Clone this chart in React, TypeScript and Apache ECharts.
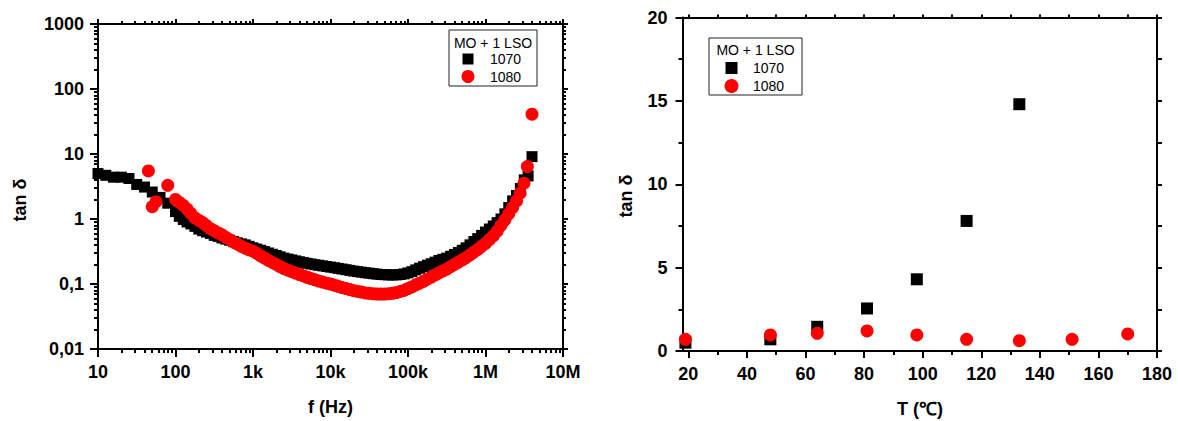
import React, { useEffect, useRef } from 'react';
import * as echarts from 'echarts';

// ---------- data ----------
const freqBlack = [10, 12.6, 15.8, 20, 25.1, 31.6, 39.8, 50.1, 63.1, 79.4,
  100, 112, 126, 141, 158, 178, 200, 224, 251, 282, 316, 355, 398, 447, 501, 562, 631, 708, 794, 891,
  1000, 1122, 1259, 1413, 1585, 1778, 1995, 2239, 2512, 2818, 3162, 3548, 3981, 4467, 5012, 5623, 6310, 7079, 7943, 8913,
  10000, 11220, 12589, 14125, 15849, 17783, 19953, 22387, 25119, 28184, 31623, 35481, 39811, 44668, 50119, 56234, 63096, 70795, 79433, 89125,
  100000, 112202, 125893, 141254, 158489, 177828, 199526, 223872, 251189, 281838, 316228, 354813, 398107, 446684, 501187, 562341, 630957, 707946, 794328, 891251,
  1000000, 1122018, 1258925, 1412538, 1584893, 1778279, 1995262, 2238721, 2511886, 2818383, 3162278, 3548134, 3981072];
const tanBlack = [5.0, 4.7, 4.4, 4.4, 4.2, 3.4, 3.1, 2.6, 2.15, 1.75,
  1.3, 1.1, 0.98, 0.9, 0.84, 0.77, 0.7, 0.66, 0.63, 0.6, 0.56, 0.54, 0.51, 0.49, 0.47, 0.45, 0.43, 0.415, 0.4, 0.38,
  0.36, 0.345, 0.33, 0.315, 0.3, 0.287, 0.275, 0.262, 0.25, 0.242, 0.235, 0.227, 0.22, 0.214, 0.208, 0.203, 0.198, 0.194, 0.19, 0.186,
  0.182, 0.178, 0.174, 0.17, 0.166, 0.162, 0.158, 0.155, 0.152, 0.149, 0.147, 0.144, 0.142, 0.14, 0.139, 0.138, 0.138, 0.138, 0.14, 0.143,
  0.148, 0.155, 0.165, 0.175, 0.185, 0.195, 0.205, 0.217, 0.23, 0.24, 0.25, 0.267, 0.285, 0.305, 0.33, 0.36, 0.4, 0.45, 0.5, 0.56,
  0.63, 0.7, 0.78, 0.88, 1.0, 1.2, 1.5, 1.9, 2.3, 2.95, 4.0, 4.6, 9.1];

const freqRed = [44.7, 50.1, 56.2, 79.4,
  100, 112, 126, 141, 158, 178, 200, 224, 251, 282, 316, 355, 398, 447, 501, 562, 631, 708, 794, 891,
  1000, 1122, 1259, 1413, 1585, 1778, 1995, 2239, 2512, 2818, 3162, 3548, 3981, 4467, 5012, 5623, 6310, 7079, 7943, 8913,
  10000, 11220, 12589, 14125, 15849, 17783, 19953, 22387, 25119, 28184, 31623, 35481, 39811, 44668, 50119, 56234, 63096, 70795, 79433, 89125,
  100000, 112202, 125893, 141254, 158489, 177828, 199526, 223872, 251189, 281838, 316228, 354813, 398107, 446684, 501187, 562341, 630957, 707946, 794328, 891251,
  1000000, 1122018, 1258925, 1412538, 1584893, 1778279, 1995262, 2238721, 2511886, 2800000, 3140000, 3470000, 3980000];
const tanRed = [5.5, 1.55, 1.85, 3.3,
  2.0, 1.8, 1.62, 1.42, 1.22, 1.04, 0.95, 0.88, 0.79, 0.71, 0.66, 0.61, 0.57, 0.52, 0.48, 0.44, 0.41, 0.38, 0.355, 0.335,
  0.32, 0.295, 0.27, 0.25, 0.23, 0.215, 0.2, 0.185, 0.172, 0.163, 0.155, 0.147, 0.14, 0.133, 0.127, 0.121, 0.116, 0.111, 0.107, 0.103,
  0.1, 0.096, 0.092, 0.088, 0.085, 0.082, 0.079, 0.077, 0.075, 0.073, 0.072, 0.071, 0.07, 0.07, 0.07, 0.071, 0.072, 0.074, 0.077, 0.08,
  0.085, 0.09, 0.097, 0.103, 0.11, 0.119, 0.128, 0.138, 0.148, 0.159, 0.17, 0.185, 0.2, 0.217, 0.235, 0.255, 0.28, 0.31, 0.34, 0.38,
  0.42, 0.48, 0.55, 0.65, 0.8, 0.97, 1.2, 1.5, 1.9, 2.5, 3.55, 6.4, 41];

const tempBlack = [19, 48, 64, 81, 98, 115, 133];
const tanTempBlack = [0.5, 0.7, 1.45, 2.55, 4.3, 7.8, 14.8];
const tempRed = [19, 48, 64, 81, 98, 115, 133, 151, 170];
const tanTempRed = [0.7, 0.96, 1.06, 1.2, 0.96, 0.7, 0.62, 0.7, 1.02];

const freqTickValues = [10, 100, 1e3, 1e4, 1e5, 1e6, 1e7];
const freqTickLabels = ['10', '100', '1k', '10k', '100k', '1M', '10M'];
const tanTickValues = [0.01, 0.1, 1, 10, 100, 1000];
const tanTickLabels = ['0,01', '0,1', '1', '10', '100', '1000'];
const tempTicks = [20, 40, 60, 80, 100, 120, 140, 160, 180];
const tempMinorTicks = [30, 50, 70, 90, 110, 130, 150, 170];
const tanTempTicks = [0, 5, 10, 15, 20];
const tanTempMinorTicks = [2.5, 7.5, 12.5, 17.5];

const legendTitle = 'MO + 1 LSO';
const seriesNames = ['1070', '1080'];
const axisTitles = { freq: 'f (Hz)', temp: 'T (℃)', tan: 'tan δ' };

// ---------- helpers ----------
const FONT = '"Liberation Sans", Arial, Helvetica, sans-serif';

function minorLogTicks(lo: number, hi: number): number[] {
  const out: number[] = [];
  for (let d = lo; d < hi * 0.999; d *= 10) {
    for (let k = 2; k <= 9; k++) out.push(Math.round(d * k * 1e6) / 1e6);
  }
  return out;
}

function lookupLabel(values: number[], labels: string[]) {
  return (v: number) => {
    const i = values.findIndex((t) => Math.abs(t - v) / t < 1e-4);
    return i >= 0 ? labels[i] : '';
  };
}

const BLACK = '#000000';
const RED = '#ff0000';

function tickAxis(base: any, opts: { line?: boolean; ticks: number[]; len: number; labels?: any; position: string; gridIndex: number }) {
  return {
    ...base,
    gridIndex: opts.gridIndex,
    position: opts.position,
    axisLine: { show: !!opts.line, onZero: false, lineStyle: { color: BLACK, width: 2 } },
    axisTick: { show: true, inside: false, length: opts.len, customValues: opts.ticks, lineStyle: { color: BLACK, width: 2 } },
    axisLabel: opts.labels ? opts.labels : { show: false },
    splitLine: { show: false },
    minorTick: { show: false },
    minorSplitLine: { show: false },
  };
}

const labelStyle = (fmt: any, margin: number, customValues?: number[]) => ({
  show: true,
  fontFamily: FONT,
  fontWeight: 'bold',
  fontSize: 18,
  color: BLACK,
  margin,
  formatter: fmt,
  ...(customValues ? { customValues } : {}),
});

export default function App() {
  const ref = useRef<HTMLDivElement>(null);

  useEffect(() => {
    if (!ref.current) return;
    const chart = echarts.init(ref.current, null, { renderer: 'svg' });

    const G0 = { left: 98, top: 24, width: 465, height: 325 };
    const G1 = { left: 682.5, top: 17.5, width: 474.5, height: 333.5 };

    const fMinor = minorLogTicks(10, 1e7);
    const tMinor = minorLogTicks(0.01, 1000);

    const logX = { type: 'log', logBase: 10, min: 10, max: 1e7 };
    const logY = { type: 'log', logBase: 10, min: 0.01, max: 1000 };
    const linX = { type: 'value', min: 18, max: 180 };
    const linY = { type: 'value', min: 0, max: 20, interval: 5 };

    const xAxes = [
      tickAxis(logX, { line: true, ticks: freqTickValues, len: 8, position: 'bottom', gridIndex: 0,
        labels: labelStyle(lookupLabel(freqTickValues, freqTickLabels), 14) }),
      tickAxis(logX, { ticks: fMinor, len: 4, position: 'bottom', gridIndex: 0 }),
      tickAxis(logX, { line: true, ticks: freqTickValues, len: 5, position: 'top', gridIndex: 0 }),
      tickAxis(logX, { ticks: fMinor, len: 3, position: 'top', gridIndex: 0 }),
      tickAxis(linX, { line: true, ticks: tempTicks, len: 7, position: 'bottom', gridIndex: 1,
        labels: labelStyle((v: number) => String(v), 14, tempTicks) }),
      tickAxis(linX, { ticks: tempMinorTicks, len: 4, position: 'bottom', gridIndex: 1 }),
      tickAxis(linX, { line: true, ticks: tempTicks, len: 3, position: 'top', gridIndex: 1 }),
      tickAxis(linX, { ticks: tempMinorTicks, len: 3, position: 'top', gridIndex: 1 }),
    ];

    const yAxes = [
      tickAxis(logY, { line: true, ticks: tanTickValues, len: 8, position: 'left', gridIndex: 0,
        labels: labelStyle(lookupLabel(tanTickValues, tanTickLabels), 14) }),
      tickAxis(logY, { ticks: tMinor, len: 4, position: 'left', gridIndex: 0 }),
      tickAxis(logY, { line: true, ticks: tanTickValues, len: 5, position: 'right', gridIndex: 0 }),
      tickAxis(logY, { ticks: tMinor, len: 3, position: 'right', gridIndex: 0 }),
      tickAxis(linY, { line: true, ticks: tanTempTicks, len: 7, position: 'left', gridIndex: 1,
        labels: labelStyle((v: number) => String(v), 15, tanTempTicks) }),
      tickAxis(linY, { ticks: tanTempMinorTicks, len: 4, position: 'left', gridIndex: 1 }),
      tickAxis(linY, { line: true, ticks: tanTempTicks, len: 5, position: 'right', gridIndex: 1 }),
      tickAxis(linY, { ticks: tanTempMinorTicks, len: 5, position: 'right', gridIndex: 1 }),
    ];

    const titleFont = { fontFamily: FONT, fontWeight: 'bold', fontSize: 18, fill: BLACK };
    const legFont = { fontFamily: FONT, fontWeight: 'normal', fontSize: 14, fill: BLACK };

    const legend = (bx: number, by: number, bw: number, bh: number, titleY: number, mx: number, tx: number, y1: number, y2: number, sq: number, r: number) => ({
      type: 'group',
      z: 100,
      children: [
        { type: 'rect', shape: { x: bx, y: by, width: bw, height: bh }, style: { fill: '#fff', stroke: '#222', lineWidth: 1 } },
        { type: 'text', x: bx + bw / 2, y: titleY, style: { text: legendTitle, ...legFont, align: 'center', verticalAlign: 'middle', textAlign: 'center', textVerticalAlign: 'middle' } },
        { type: 'rect', shape: { x: mx - sq / 2, y: y1 - sq / 2, width: sq, height: sq }, style: { fill: BLACK } },
        { type: 'text', x: tx, y: y1, style: { text: seriesNames[0], ...legFont, align: 'left', verticalAlign: 'middle', textAlign: 'left', textVerticalAlign: 'middle' } },
        { type: 'circle', shape: { cx: mx, cy: y2, r }, style: { fill: RED } },
        { type: 'text', x: tx, y: y2, style: { text: seriesNames[1], ...legFont, align: 'left', verticalAlign: 'middle', textAlign: 'left', textVerticalAlign: 'middle' } },
      ],
    });

    const centered = { align: 'center', verticalAlign: 'middle', textAlign: 'center', textVerticalAlign: 'middle' };
    const solid = (c: string) => ({ color: c, opacity: 1 });

    chart.setOption({
      animation: false,
      backgroundColor: '#ffffff',
      grid: [
        { ...G0, containLabel: false },
        { ...G1, containLabel: false },
      ],
      xAxis: xAxes,
      yAxis: yAxes,
      series: [
        {
          name: seriesNames[0], type: 'scatter', xAxisIndex: 0, yAxisIndex: 0, symbol: 'rect', symbolSize: 11,
          itemStyle: solid(BLACK), emphasis: { disabled: true }, data: freqBlack.map((f, i) => [f, tanBlack[i]]),
        },
        {
          name: seriesNames[1], type: 'scatter', xAxisIndex: 0, yAxisIndex: 0, symbol: 'circle', symbolSize: 13,
          itemStyle: solid(RED), emphasis: { disabled: true }, data: freqRed.map((f, i) => [f, tanRed[i]]),
        },
        {
          name: seriesNames[0], type: 'scatter', xAxisIndex: 4, yAxisIndex: 4, symbol: 'rect', symbolSize: 12,
          itemStyle: solid(BLACK), emphasis: { disabled: true }, data: tempBlack.map((t, i) => [t, tanTempBlack[i]]),
        },
        {
          name: seriesNames[1], type: 'scatter', xAxisIndex: 4, yAxisIndex: 4, symbol: 'circle', symbolSize: 13,
          itemStyle: solid(RED), emphasis: { disabled: true }, data: tempRed.map((t, i) => [t, tanTempRed[i]]),
        },
      ],
      graphic: [
        { type: 'text', x: 330.5, y: 407, style: { text: axisTitles.freq, ...titleFont, ...centered } },
        { type: 'text', x: 920, y: 409, style: { text: axisTitles.temp, ...titleFont, ...centered } },
        { type: 'text', x: 20, y: 200, rotation: Math.PI / 2, style: { text: axisTitles.tan, ...titleFont, ...centered } },
        { type: 'text', x: 626, y: 196, rotation: Math.PI / 2, style: { text: axisTitles.tan, ...titleFont, ...centered } },
        legend(449, 30, 88, 56, 42.5, 468, 490, 59, 76.5, 11, 6.5),
        legend(709, 38, 93, 57, 50, 731.5, 753, 68, 86, 12, 7),
      ],
    });

    return () => chart.dispose();
  }, []);

  return <div ref={ref} style={{ position: 'absolute', left: 0, top: 0, width: 1178, height: 421 }} />;
}
